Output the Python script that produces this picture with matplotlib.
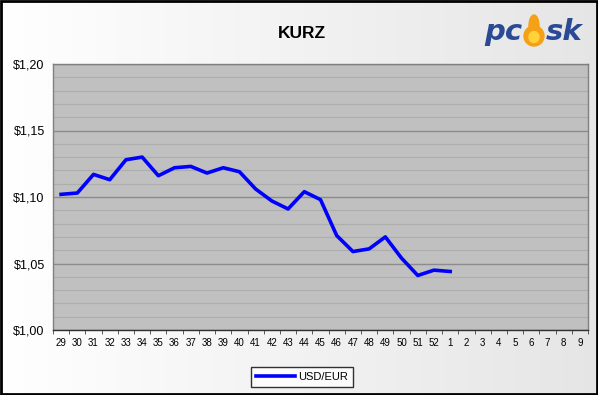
import numpy as np
import matplotlib
matplotlib.use("Agg")
import matplotlib.pyplot as plt
from matplotlib.patches import Rectangle, Ellipse
from matplotlib.ticker import MultipleLocator, FixedLocator, FuncFormatter

plt.rcParams['font.family'] = ['Liberation Sans', 'DejaVu Sans']

weeks = [str(w) for w in list(range(29, 53)) + list(range(1, 10))]
usd_eur = [1.102, 1.103, 1.117, 1.113, 1.128, 1.130, 1.116, 1.122, 1.123,
           1.118, 1.122, 1.119, 1.106, 1.097, 1.091, 1.104, 1.098, 1.071,
           1.059, 1.061, 1.070, 1.054, 1.041, 1.045, 1.044]
series_name = "USD/EUR"
title = "KURZ"

W, H = 598, 395
fig = plt.figure(figsize=(W / 100, H / 100), dpi=100)

# gradient background
bg = fig.add_axes([0, 0, 1, 1], zorder=-10)
grad = np.linspace(1.0, 0.90, 256)[None, :]
bg.imshow(np.dstack([grad, grad, grad]), aspect='auto', extent=[0, 1, 0, 1])
bg.set_xlim(0, 1); bg.set_ylim(0, 1)
bg.axis('off')
bg.add_patch(Rectangle((0.001, 0.002), 0.997, 0.995, fill=False,
                       edgecolor='black', linewidth=2, transform=bg.transAxes))

ax = fig.add_axes([53 / W, 1 - 330 / H, (588 - 53) / W, (330 - 64) / H])
ax.set_facecolor('#c0c0c0')
n = len(weeks)
x = np.arange(len(usd_eur))
ax.set_xlim(-0.5, n - 0.5)
ax.set_ylim(1.00, 1.20)

ax.yaxis.set_major_locator(MultipleLocator(0.05))
ax.yaxis.set_minor_locator(MultipleLocator(0.01))
ax.grid(True, which='major', axis='y', color='#8c8c8c', linewidth=1.0)
ax.grid(True, which='minor', axis='y', color='#adadad', linewidth=0.8)
ax.set_axisbelow(True)
ax.yaxis.set_major_formatter(FuncFormatter(lambda v, p: ("$%.2f" % v).replace('.', ',')))
ax.tick_params(axis='y', which='both', length=0, labelsize=9, pad=6)

ax.set_xticks(np.arange(n))
ax.set_xticklabels(weeks)
ax.xaxis.set_minor_locator(FixedLocator(np.arange(n + 1) - 0.5))
ax.tick_params(axis='x', which='major', length=0, labelsize=7, pad=6)
ax.tick_params(axis='x', which='minor', length=3, direction='out', color='#404040')

for s in ax.spines.values():
    s.set_color('#808080')
    s.set_linewidth(1.0)
ax.spines['bottom'].set_color('#303030')

ax.plot(x, usd_eur, color='#0000ff', linewidth=2.6, label=series_name,
        solid_joinstyle='round')

leg = fig.legend(loc='center', bbox_to_anchor=(302 / W, 1 - 377 / H),
                 frameon=True, fancybox=False, fontsize=8, handlelength=3.5,
                 borderpad=0.45, handletextpad=0.3, edgecolor='black')
leg.get_frame().set_linewidth(1.0)
leg.get_frame().set_facecolor('white')

fig.text(302 / W, 1 - 33 / H, title, ha='center', va='center',
         fontsize=12.5, fontweight='bold')

# logo: "pc" + flame + "sk"
logo_y = 1 - 32 / H
fig.text(522 / W, logo_y, "pc", ha='right', va='center', fontsize=21,
         fontweight='bold', style='italic', color='#2b4a96', family='DejaVu Sans')
fig.text(546 / W, logo_y, "sk", ha='left', va='center', fontsize=21,
         fontweight='bold', style='italic', color='#2b4a96', family='DejaVu Sans')
logo = fig.add_axes([522 / W, 1 - 48 / H, 24 / W, 36 / H])
logo.set_xlim(0, 24); logo.set_ylim(0, 36)
logo.axis('off')
logo.add_patch(Ellipse((12, 12), 20, 20, color='#f5a015'))
logo.add_patch(Ellipse((12, 22), 10, 22, color='#f5a015'))
logo.add_patch(Ellipse((12, 11), 10, 11, color='#ffd23a'))

fig.savefig('out.png', dpi=100)
